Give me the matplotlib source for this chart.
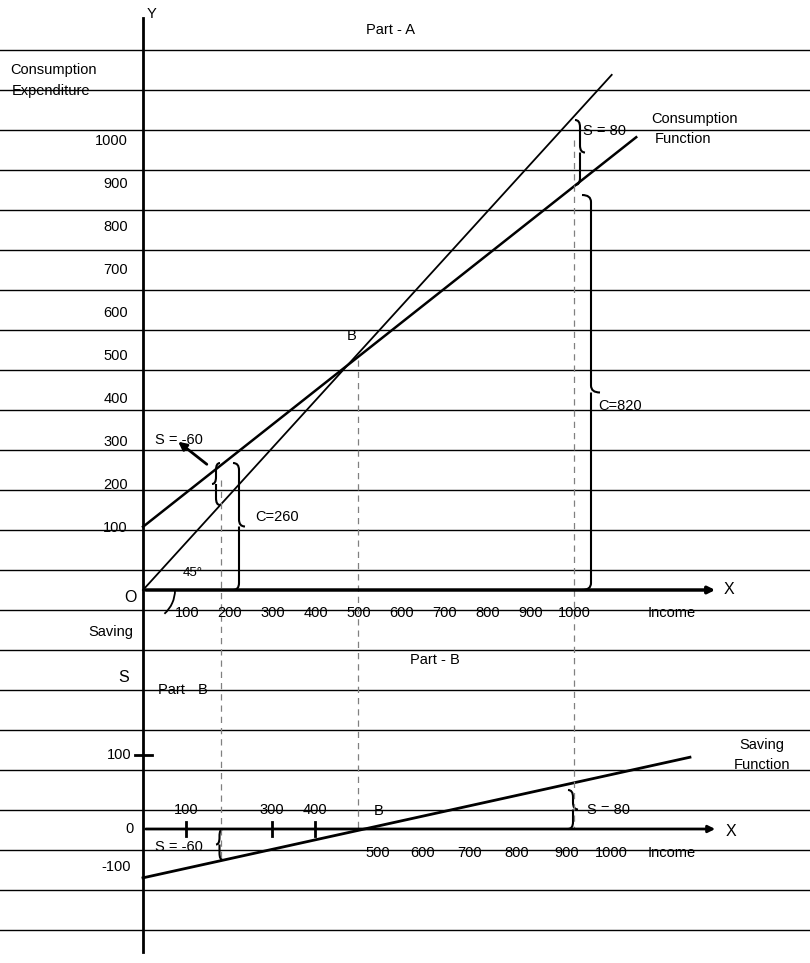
import numpy as np
import matplotlib.pyplot as plt
from matplotlib.path import Path
from matplotlib.patches import PathPatch, Arc

plt.rcParams['font.family'] = 'Liberation Sans'
FS = 10.5

# data (income units)
xticks_a = [100, 200, 300, 400, 500, 600, 700, 800, 900, 1000]
yticks_a = [100, 200, 300, 400, 500, 600, 700, 800, 900, 1000]
line45_x = [0, 1090]
line45_y = [0, 1198]
cons_x = [0, 1147]
cons_y = [147, 1053]
sav_x = [0, 1272]
sav_s = [-66, 97]
xticks_b_above = [100, 300, 400]
xlabels_b_below = ['500', '600', '700', '800', '900', '1000']
xpos_b_below = [545, 650, 760, 870, 985, 1090]
dash_x = [182, 500, 1003]

# scales: income -> pixel
OX, OY_A, OY_B = 143, 590, 829
def px(v): return OX + 0.43 * np.asarray(v, float)
def pyA(v): return OY_A - 0.43 * np.asarray(v, float)
def pyB(v): return OY_B - 0.74 * np.asarray(v, float)

fig = plt.figure(figsize=(8.1, 9.63), dpi=100)
ax = fig.add_axes([0, 0, 1, 1])
ax.set_xlim(0, 810)
ax.set_ylim(963, 0)
ax.axis('off')

# ruled paper
for y in range(50, 950, 40):
    ax.plot([0, 810], [y, y], color='black', lw=1)

# axes
ax.plot([OX, OX], [18, 952], color='black', lw=2)
ax.annotate('', xy=(718, OY_A), xytext=(OX, OY_A),
            arrowprops=dict(arrowstyle='-|>', color='black', lw=2.5, mutation_scale=10))
ax.annotate('', xy=(718, OY_B), xytext=(OX, OY_B),
            arrowprops=dict(arrowstyle='-|>', color='black', lw=2, mutation_scale=10))
ax.text(147, 14, 'Y', fontsize=FS, va='center')
ax.text(724, 590, 'X', fontsize=FS + 1, va='center')
ax.text(726, 832, 'X', fontsize=FS + 1, va='center')
ax.text(137, 598, 'O', fontsize=FS + 1, ha='right', va='center')

# part A lines
ax.plot(px(line45_x), pyA(line45_y), color='black', lw=1.3)
ax.plot(px(cons_x), pyA(cons_y), color='black', lw=1.8)
ax.add_patch(Arc((OX, OY_A), 64, 64, theta1=0, theta2=48, color='black', lw=1.3))
ax.text(183, 573, '45°', fontsize=FS - 1, va='center')
ax.text(347, 336, 'B', fontsize=FS, va='center')

# part B saving function
ax.plot(px(sav_x), pyB(sav_s), color='black', lw=2)

# dashed guide lines
ax.plot([px(dash_x[0])] * 2, [480, 862], color='gray', lw=0.9, ls=(0, (5, 4)))
ax.plot([px(dash_x[1])] * 2, [360, OY_B], color='gray', lw=0.9, ls=(0, (5, 4)))
ax.plot([px(dash_x[2])] * 2, [140, OY_B], color='gray', lw=0.9, ls=(0, (5, 4)))

# tick labels part A
for v in xticks_a:
    ax.text(px(v) + 1, 613, str(v), fontsize=FS, ha='center', va='center')
for v in yticks_a:
    ax.text(128, pyA(v) - 19, str(v), fontsize=FS, ha='right', va='center')
ax.text(672, 613, 'Income', fontsize=FS, ha='center', va='center')

# tick labels part B
for v in xticks_b_above:
    ax.plot([px(v)] * 2, [822, 836], color='black', lw=2)
    ax.text(px(v), 810, str(v), fontsize=FS, ha='center', va='center')
for lab, v in zip(xlabels_b_below, xpos_b_below):
    ax.text(px(v), 853, lab, fontsize=FS, ha='center', va='center')
ax.text(672, 853, 'Income', fontsize=FS, ha='center', va='center')
ax.plot([135, 152], [pyB(100)] * 2, color='black', lw=2)
ax.text(131, pyB(100), '100', fontsize=FS, ha='right', va='center')
ax.text(134, OY_B, '0', fontsize=FS, ha='right', va='center')
ax.text(131, 867, '-100', fontsize=FS, ha='right', va='center')
ax.text(374, 811, 'B', fontsize=FS, va='center')

# titles and captions
ax.text(390, 30, 'Part - A', fontsize=FS, ha='center', va='center')
ax.text(435, 660, 'Part - B', fontsize=FS, ha='center', va='center')
ax.text(158, 690, 'Part - B', fontsize=FS, va='center')
ax.text(10, 70, 'Consumption', fontsize=FS, va='center')
ax.text(12, 91, 'Expenditure', fontsize=FS, va='center')
ax.text(695, 119, 'Consumption', fontsize=FS, ha='center', va='center')
ax.text(683, 139, 'Function', fontsize=FS, ha='center', va='center')
ax.text(762, 745, 'Saving', fontsize=FS, ha='center', va='center')
ax.text(762, 765, 'Function', fontsize=FS, ha='center', va='center')
ax.text(88, 632, 'Saving', fontsize=FS, va='center')
ax.text(118, 677, 'S', fontsize=FS + 1, va='center')

def brace(x, y0, y1, w, d, lw=1.5):
    h = w / 2
    ym = (y0 + y1) / 2
    r = min(7, (y1 - y0) / 4)
    verts = [(x, y0), (x + d * h, y0), (x + d * h, y0 + r),
             (x + d * h, ym - r), (x + d * h, ym), (x + d * w, ym),
             (x + d * h, ym), (x + d * h, ym), (x + d * h, ym + r),
             (x + d * h, y1 - r), (x + d * h, y1), (x, y1)]
    codes = [Path.MOVETO, Path.CURVE3, Path.CURVE3,
             Path.LINETO, Path.CURVE3, Path.CURVE3,
             Path.MOVETO, Path.MOVETO, Path.LINETO,
             Path.LINETO, Path.CURVE3, Path.CURVE3]
    ax.add_patch(PathPatch(Path(verts, codes), fill=False, lw=lw, color='black'))

brace(575, 120, 185, 10, 1)
ax.text(583, 131, 'S = 80', fontsize=FS, va='center')
brace(582, 195, 590, 18, 1)
ax.text(598, 406, 'C=820', fontsize=FS, va='center')
brace(220, 463, 505, 8, -1)
brace(233, 463, 590, 12, 1)
ax.text(255, 517, 'C=260', fontsize=FS, va='center')
ax.annotate('', xy=(176, 440), xytext=(209, 466),
            arrowprops=dict(arrowstyle='-|>', color='black', lw=2, mutation_scale=12))
ax.text(155, 440, 'S = -60', fontsize=FS, va='center')
brace(568, 790, 829, 10, 1)
ax.text(587, 810, 'S = 80', fontsize=FS, va='center')
brace(223, 829, 860, 7, -1)
ax.text(155, 847, 'S = -60', fontsize=FS, va='center')

fig.savefig('out.png', dpi=100)
